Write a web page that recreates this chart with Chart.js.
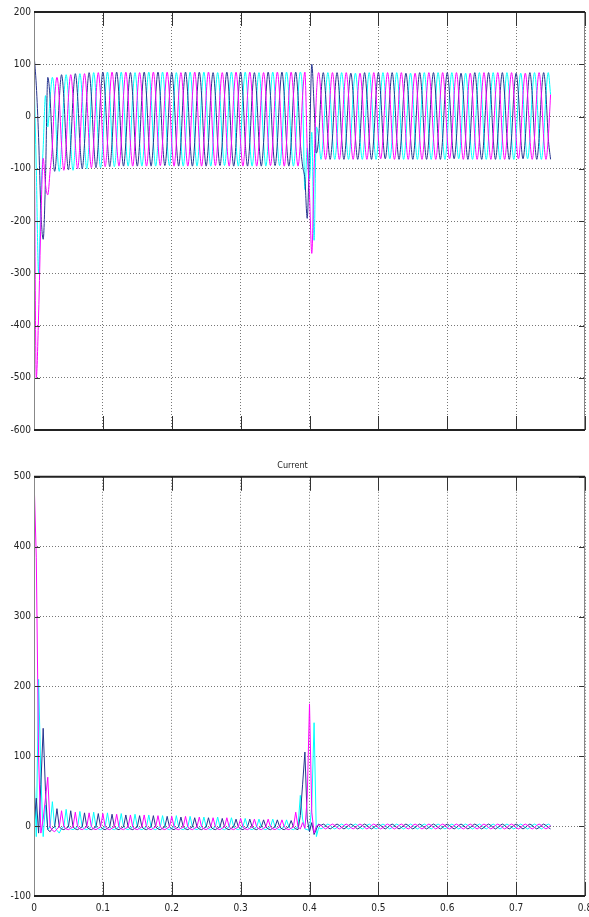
<!DOCTYPE html>
<html>
<head>
<meta charset="utf-8">
<script src="https://cdn.jsdelivr.net/npm/chart.js@4.4.1/dist/chart.umd.min.js"></script>
<style>
  html, body { margin: 0; padding: 0; background: #fff; }
  #voltBox { position: absolute; left: 0; top: 0; width: 589px; height: 440px; }
  #ampBox { position: absolute; left: 0; top: 450px; width: 589px; height: 467px; }
</style>
</head>
<body>
<div id="voltBox"><canvas id="voltChart" width="589" height="440"></canvas></div>
<div id="ampBox"><canvas id="ampChart" width="589" height="467"></canvas></div>
<script>
// scope samples: six readings per 50 Hz cycle, 0 .. 0.75 s
var sampleStep = 0.02 / 6;

var timeTicks = [0, 0.1, 0.2, 0.3, 0.4, 0.5, 0.6, 0.7, 0.8];
var voltTicks = [-600, -500, -400, -300, -200, -100, 0, 100, 200];
var ampTicks = [-100, 0, 100, 200, 300, 400, 500];

// voltage, one row per cycle
var voltNavy = [
  120, 60, -40, -180, -235, -120,
  75, 35, -55, -105, -58, 32,
  80, 36, -54, -102, -55, 36,
  82, 38, -52, -100, -52, 38,
  84, 39, -51, -98, -51, 39,
  85, 40, -50, -96, -50, 40,
  85, 40, -50, -95, -50, 40,
  84, 40, -50, -95, -51, 40,
  85, 41, -50, -95, -50, 40,
  85, 40, -49, -94, -50, 40,
  84, 40, -50, -95, -50, 41,
  85, 40, -50, -95, -50, 40,
  85, 41, -50, -95, -50, 40,
  84, 40, -50, -94, -50, 40,
  85, 40, -50, -95, -51, 40,
  85, 40, -49, -95, -50, 40,
  84, 41, -50, -95, -50, 40,
  85, 40, -50, -94, -50, 40,
  85, 40, -50, -95, -50, 41,
  85, 40, -50, -95, -120, -195,
  -60, 100, 20, -70, -41, 42,
  84, 42, -41, -82, -41, 42,
  84, 42, -41, -82, -41, 42,
  83, 42, -41, -82, -42, 42,
  84, 41, -41, -82, -41, 42,
  84, 42, -41, -81, -41, 42,
  84, 42, -42, -82, -41, 41,
  83, 42, -41, -82, -41, 42,
  84, 42, -41, -82, -41, 42,
  84, 41, -41, -82, -42, 42,
  84, 42, -41, -81, -41, 42,
  83, 42, -41, -82, -41, 42,
  84, 42, -42, -82, -41, 41,
  84, 42, -41, -82, -41, 42,
  84, 41, -41, -82, -41, 42,
  83, 42, -41, -81, -41, 42,
  84, 42, -41, -82, -42, 42,
  84, 42, -41, -82
];

var voltMagenta = [
  60, -500, -380, -200, -80, -130,
  -150, -105, -55, 35, 75, 35,
  -55, -103, -55, 36, 80, 36,
  -52, -100, -52, 38, 82, 38,
  -51, -98, -51, 39, 84, 39,
  -50, -96, -50, 40, 85, 40,
  -50, -95, -50, 40, 85, 40,
  -51, -95, -50, 40, 84, 40,
  -50, -95, -50, 41, 85, 40,
  -50, -94, -49, 40, 85, 40,
  -50, -95, -50, 40, 84, 41,
  -50, -95, -50, 40, 85, 40,
  -50, -95, -50, 41, 85, 40,
  -50, -94, -50, 40, 84, 40,
  -51, -95, -50, 40, 85, 40,
  -50, -95, -49, 40, 85, 40,
  -50, -95, -50, 41, 84, 40,
  -50, -94, -50, 40, 85, 40,
  -50, -95, -50, 40, 85, 41,
  -50, -95, -50, 40, 85, -60,
  -150, -262, -100, 40, 84, 42,
  -41, -82, -41, 42, 84, 42,
  -41, -82, -41, 42, 84, 42,
  -42, -82, -41, 42, 83, 42,
  -41, -82, -41, 41, 84, 42,
  -41, -81, -41, 42, 84, 42,
  -41, -82, -42, 42, 84, 41,
  -41, -82, -41, 42, 83, 42,
  -41, -82, -41, 42, 84, 42,
  -42, -82, -41, 41, 84, 42,
  -41, -81, -41, 42, 84, 42,
  -41, -82, -41, 42, 83, 42,
  -41, -82, -42, 42, 84, 41,
  -41, -82, -41, 42, 84, 42,
  -41, -82, -41, 41, 84, 42,
  -41, -81, -41, 42, 83, 42,
  -42, -82, -41, 42, 84, 42,
  -41, -82, -41, 42
];

var voltCyan = [
  80, -100, -300, -150, -60, 40,
  -20, 35, 75, 35, -55, -105,
  -55, 36, 80, 36, -55, -103,
  -52, 38, 82, 38, -52, -100,
  -51, 39, 84, 39, -51, -98,
  -50, 40, 85, 40, -50, -96,
  -50, 40, 85, 40, -50, -95,
  -50, 40, 84, 40, -51, -95,
  -50, 41, 85, 40, -50, -95,
  -49, 40, 85, 40, -50, -94,
  -50, 40, 84, 41, -50, -95,
  -50, 40, 85, 40, -50, -95,
  -50, 41, 85, 40, -50, -95,
  -50, 40, 84, 40, -50, -94,
  -50, 40, 85, 40, -51, -95,
  -49, 40, 85, 40, -50, -95,
  -50, 41, 84, 40, -50, -95,
  -50, 40, 85, 40, -50, -94,
  -50, 40, 85, 41, -50, -95,
  -50, 40, 85, 40, -140, -60,
  -120, -30, -237, -20, -41, -82,
  -41, 42, 84, 42, -41, -82,
  -41, 42, 84, 42, -41, -82,
  -41, 42, 83, 42, -42, -82,
  -41, 41, 84, 42, -41, -82,
  -41, 42, 84, 42, -41, -81,
  -42, 42, 84, 41, -41, -82,
  -41, 42, 83, 42, -41, -82,
  -41, 42, 84, 42, -41, -82,
  -41, 41, 84, 42, -42, -82,
  -41, 42, 84, 42, -41, -81,
  -41, 42, 83, 42, -41, -82,
  -42, 42, 84, 41, -41, -82,
  -41, 42, 84, 42, -41, -82,
  -41, 41, 84, 42, -41, -82,
  -41, 42, 83, 42, -41, -81,
  -41, 42, 84, 42, -42, -82,
  -41, 42, 84, 42
];

// current, one row per cycle
var ampNavy = [
  0, 40, -10, 60, 140, 50,
  -5, -8, -3, -1, 25, -1,
  -4, -5, -3, -1, 22, -1,
  -4, -5, -3, -1, 19, -1,
  -4, -5, -3, -1, 18, -1,
  -4, -5, -3, -1, 17, -1,
  -4, -5, -3, -1, 16, -1,
  -4, -5, -3, -1, 15, -1,
  -4, -5, -3, -1, 15, -1,
  -4, -5, -3, -1, 14, -1,
  -4, -5, -3, -1, 13, -1,
  -4, -5, -3, -1, 12, -1,
  -4, -5, -3, -1, 12, -1,
  -4, -5, -3, -1, 11, -1,
  -4, -5, -3, -1, 10, -1,
  -4, -5, -3, -1, 10, -1,
  -4, -5, -3, -1, 9, -1,
  -4, -5, -3, -1, 9, -1,
  -4, -5, -3, -1, 8, -1,
  -4, -5, 15, 60, 106, 10,
  -8, 5, -12, -4, 3, 1,
  3, 1, -2, -4, -2, 1,
  3, 1, -2, -4, -2, 1,
  3, 1, -2, -4, -2, 1,
  3, 1, -2, -4, -2, 1,
  3, 1, -2, -4, -2, 1,
  3, 1, -2, -4, -2, 1,
  3, 1, -2, -4, -2, 1,
  3, 1, -2, -4, -2, 1,
  3, 1, -2, -4, -2, 1,
  3, 1, -2, -4, -2, 1,
  3, 1, -2, -4, -2, 1,
  3, 1, -2, -4, -2, 1,
  3, 1, -2, -4, -2, 1,
  3, 1, -2, -4, -2, 1,
  3, 1, -2, -4, -2, 1,
  3, 1, -2, -4, -2, 1,
  3, 1, -2, -4
];

var ampMagenta = [
  500, 385, 100, -10, 10, 40,
  70, -1, -6, -8, -4, -1,
  22, -1, -4, -5, -3, -1,
  20, -1, -4, -5, -3, -1,
  19, -1, -4, -5, -3, -1,
  18, -1, -4, -5, -3, -1,
  17, -1, -4, -5, -3, -1,
  16, -1, -4, -5, -3, -1,
  16, -1, -4, -5, -3, -1,
  15, -1, -4, -5, -3, -1,
  14, -1, -4, -5, -3, -1,
  14, -1, -4, -5, -3, -1,
  13, -1, -4, -5, -3, -1,
  12, -1, -4, -5, -3, -1,
  12, -1, -4, -5, -3, -1,
  11, -1, -4, -5, -3, -1,
  10, -1, -4, -5, -3, -1,
  10, -1, -4, -5, -3, -1,
  9, -1, -4, -5, -3, -1,
  20, -1, -4, 5, -3, 40,
  175, 20, -10, 0, 2, 1,
  -2, -4, -2, 1, 3, 1,
  -2, -4, -2, 1, 3, 1,
  -2, -4, -2, 1, 3, 1,
  -2, -4, -2, 1, 3, 1,
  -2, -4, -2, 1, 3, 1,
  -2, -4, -2, 1, 3, 1,
  -2, -4, -2, 1, 3, 1,
  -2, -4, -2, 1, 3, 1,
  -2, -4, -2, 1, 3, 1,
  -2, -4, -2, 1, 3, 1,
  -2, -4, -2, 1, 3, 1,
  -2, -4, -2, 1, 3, 1,
  -2, -4, -2, 1, 3, 1,
  -2, -4, -2, 1, 3, 1,
  -2, -4, -2, 1, 3, 1,
  -2, -4, -2, 1, 3, 1,
  -2, -4, -2, 1
];

var ampCyan = [
  80, -15, 210, 70, -15, 30,
  -5, -1, 35, -1, -6, -10,
  -3, -1, 24, -1, -4, -5,
  -3, -1, 21, -1, -4, -5,
  -3, -1, 20, -1, -4, -5,
  -3, -1, 19, -1, -4, -5,
  -3, -1, 18, -1, -4, -5,
  -3, -1, 17, -1, -4, -5,
  -3, -1, 16, -1, -4, -5,
  -3, -1, 15, -1, -4, -5,
  -3, -1, 15, -1, -4, -5,
  -3, -1, 14, -1, -4, -5,
  -3, -1, 13, -1, -4, -5,
  -3, -1, 13, -1, -4, -5,
  -3, -1, 12, -1, -4, -5,
  -3, -1, 11, -1, -4, -5,
  -3, -1, 10, -1, -4, -5,
  -3, -1, 10, -1, -4, -5,
  -3, -1, 9, -1, -4, -5,
  -3, -1, 44, 10, -4, -5,
  -6, 30, 148, -15, -2, -4,
  -2, 1, 3, 1, -2, -4,
  -2, 1, 3, 1, -2, -4,
  -2, 1, 3, 1, -2, -4,
  -2, 1, 3, 1, -2, -4,
  -2, 1, 3, 1, -2, -4,
  -2, 1, 3, 1, -2, -4,
  -2, 1, 3, 1, -2, -4,
  -2, 1, 3, 1, -2, -4,
  -2, 1, 3, 1, -2, -4,
  -2, 1, 3, 1, -2, -4,
  -2, 1, 3, 1, -2, -4,
  -2, 1, 3, 1, -2, -4,
  -2, 1, 3, 1, -2, -4,
  -2, 1, 3, 1, -2, -4,
  -2, 1, 3, 1, -2, -4,
  -2, 1, 3, 1, -2, -4,
  -2, 1, 3, 1
];

var navyColor = '#26348f';
var magentaColor = '#ff00ff';
var cyanColor = '#00ffff';
var tickFont = { family: "'Liberation Sans Narrow', 'DejaVu Sans Condensed', 'Liberation Sans', sans-serif", size: 10 };

function toPoints(values) {
  return values.map(function(v, i) { return { x: i * sampleStep, y: v }; });
}

// smooth: rounded sine tops for the voltage; straight segments keep current spikes sharp
function lineSet(values, color, smooth) {
  var ds = {
    data: toPoints(values),
    borderColor: color,
    borderWidth: 1,
    pointRadius: 0,
    tension: 0,
    fill: false
  };
  if (smooth) ds.cubicInterpolationMode = 'monotone';
  return ds;
}

// box round the axes plus MATLAB style ticks pointing inwards
var framePlugin = {
  id: 'frame',
  afterDraw: function(chart) {
    var a = chart.chartArea;
    var ctx = chart.ctx;
    var xs = chart.scales.x, ys = chart.scales.y;
    ctx.save();
    ctx.setLineDash([]);
    ctx.strokeStyle = '#333';
    ctx.lineWidth = 1;
    xs.ticks.forEach(function(tk) {
      var px = Math.round(xs.getPixelForValue(tk.value)) + 0.5;
      ctx.beginPath();
      ctx.moveTo(px, a.bottom); ctx.lineTo(px, a.bottom - 14);
      ctx.moveTo(px, a.top); ctx.lineTo(px, a.top + 14);
      ctx.stroke();
    });
    ys.ticks.forEach(function(tk) {
      var py = Math.round(ys.getPixelForValue(tk.value)) + 0.5;
      ctx.beginPath();
      ctx.moveTo(a.left, py); ctx.lineTo(a.left + 6, py);
      ctx.moveTo(a.right, py); ctx.lineTo(a.right - 6, py);
      ctx.stroke();
    });
    ctx.strokeStyle = '#888';
    ctx.beginPath();
    ctx.moveTo(a.left + 0.5, a.top); ctx.lineTo(a.left + 0.5, a.bottom);
    ctx.moveTo(a.right - 0.5, a.top); ctx.lineTo(a.right - 0.5, a.bottom);
    ctx.stroke();
    ctx.strokeStyle = '#222';
    ctx.lineWidth = 2;
    ctx.beginPath();
    ctx.moveTo(a.left, a.top); ctx.lineTo(a.right, a.top);
    ctx.moveTo(a.left, a.bottom); ctx.lineTo(a.right, a.bottom);
    ctx.stroke();
    ctx.restore();
  }
};

function makeOptions(yTicks, xLabels, xHeight, title, padTop) {
  return {
    responsive: false,
    animation: false,
    devicePixelRatio: 1,
    layout: { padding: { top: padTop, right: 4, left: 0, bottom: 0 } },
    plugins: {
      legend: { display: false },
      tooltip: { enabled: false },
      title: title ? {
        display: true,
        text: title,
        color: '#222',
        font: { family: tickFont.family, size: 9, weight: 'normal' },
        padding: { top: 10, bottom: 6 }
      } : { display: false }
    },
    scales: {
      x: {
        type: 'linear',
        min: timeTicks[0],
        max: timeTicks[timeTicks.length - 1],
        afterBuildTicks: function(s) { s.ticks = timeTicks.map(function(v) { return { value: v }; }); },
        afterFit: function(s) { s.height = xHeight; s.paddingLeft = 0; s.paddingRight = 0; },
        ticks: {
          display: xLabels,
          color: '#222',
          font: tickFont,
          padding: 6,
          maxRotation: 0,
          callback: function(v) { return String(Math.round(v * 10) / 10); }
        },
        grid: { color: '#777', lineWidth: 1, drawTicks: false },
        border: { display: false, dash: [1, 2] }
      },
      y: {
        type: 'linear',
        min: yTicks[0],
        max: yTicks[yTicks.length - 1],
        afterBuildTicks: function(s) { s.ticks = yTicks.map(function(v) { return { value: v }; }); },
        afterFit: function(s) { s.width = 34; s.paddingTop = 0; s.paddingBottom = 0; },
        ticks: { color: '#222', font: tickFont, padding: 3 },
        grid: { color: '#777', lineWidth: 1, drawTicks: false },
        border: { display: false, dash: [1, 2] }
      }
    }
  };
}

new Chart(document.getElementById('voltChart').getContext('2d'), {
  type: 'line',
  data: {
    datasets: [
      lineSet(voltMagenta, magentaColor, true),
      lineSet(voltNavy, navyColor, true),
      lineSet(voltCyan, cyanColor, true)
    ]
  },
  options: makeOptions(voltTicks, false, 10, null, 12),
  plugins: [framePlugin]
});

new Chart(document.getElementById('ampChart').getContext('2d'), {
  type: 'line',
  data: {
    datasets: [
      lineSet(ampMagenta, magentaColor, false),
      lineSet(ampNavy, navyColor, false),
      lineSet(ampCyan, cyanColor, false)
    ]
  },
  options: makeOptions(ampTicks, true, 21, 'Current', 0),
  plugins: [framePlugin]
});
</script>
</body>
</html>
